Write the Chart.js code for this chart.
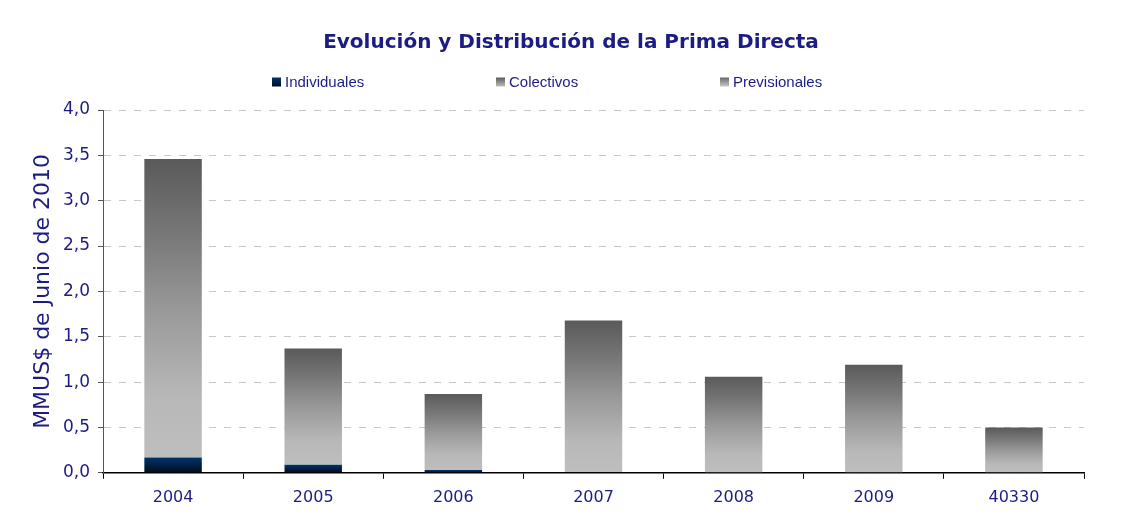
<!DOCTYPE html>
<html>
<head>
<meta charset="utf-8">
<script src="https://cdn.jsdelivr.net/npm/chart.js@4/dist/chart.umd.min.js"></script>
<style>
  html, body { margin: 0; padding: 0; background: #ffffff; }
  #wrap { width: 1122px; height: 531px; }
</style>
</head>
<body>
<div id="wrap"><canvas id="c" width="1122" height="531"></canvas></div>
<script>
const categories = ['2004', '2005', '2006', '2007', '2008', '2009', '40330'];
const individuales = [0.17, 0.09, 0.03, 0.01, 0.00, 0.00, 0.00];
const colectivos = [3.29, 1.28, 0.84, 1.67, 1.06, 1.19, 0.50];
const previsionales = [0, 0, 0, 0, 0, 0, 0];
const seriesNames = ['Individuales', 'Colectivos', 'Previsionales'];
const titleText = 'Evolución y Distribución de la Prima Directa';
const yTitleText = 'MMUS$ de Junio de 2010';

const TEXT = '#1c1c84';

function segPixels(ctx) {
  const chart = ctx.chart;
  const ys = chart.scales && chart.scales.y;
  if (!ys || ctx.dataIndex === undefined) return null;
  let base = 0;
  for (let k = 0; k < ctx.datasetIndex; k++) base += chart.data.datasets[k].data[ctx.dataIndex];
  const top = base + chart.data.datasets[ctx.datasetIndex].data[ctx.dataIndex];
  const y0 = ys.getPixelForValue(base), y1 = ys.getPixelForValue(top);
  if (!isFinite(y0) || !isFinite(y1) || Math.abs(y0 - y1) < 0.01) return null;
  return [y0, y1];
}
function grayFill(ctx) {
  const p = segPixels(ctx);
  if (!p) return '#9a9a9a';
  const g = ctx.chart.ctx.createLinearGradient(0, p[0], 0, p[1]);
  g.addColorStop(0, '#bebebe');
  g.addColorStop(0.2, '#b8b8b8');
  g.addColorStop(0.5, '#989898');
  g.addColorStop(0.75, '#777777');
  g.addColorStop(1, '#5a5a5a');
  return g;
}
function navyFill(ctx) {
  const p = segPixels(ctx);
  if (!p) return '#002a55';
  const g = ctx.chart.ctx.createLinearGradient(0, p[0], 0, p[1]);
  g.addColorStop(0, '#000c1c');
  g.addColorStop(1, '#00356a');
  return g;
}

const headerPlugin = {
  id: 'header',
  afterDraw(chart) {
    const c = chart.ctx;
    c.save();
    // title
    c.font = 'bold 20px "DejaVu Sans", Verdana, sans-serif';
    c.fillStyle = TEXT;
    c.textAlign = 'center';
    c.textBaseline = 'middle';
    c.fillText(titleText, chart.width / 2 + 10, 43);
    // legend
    const swatches = [['#00356a', '#000c1c'], ['#5a5a5a', '#bebebe'], ['#6a6a6a', '#c8c8c8']];
    const startX = chart.width / 2 - 289;
    const spacing = 224;
    const cy = 82;
    c.font = '15px "Liberation Sans", Arial, sans-serif';
    c.textAlign = 'left';
    seriesNames.forEach((name, i) => {
      const x = startX + i * spacing;
      const g = c.createLinearGradient(0, cy - 4.5, 0, cy + 4.5);
      g.addColorStop(0, swatches[i][0]);
      g.addColorStop(1, swatches[i][1]);
      c.fillStyle = g;
      c.fillRect(x, cy - 4.5, 9, 9);
      c.fillStyle = TEXT;
      c.fillText(name, x + 13, cy + 1);
    });
    c.restore();
  }
};

new Chart(document.getElementById('c'), {
  type: 'bar',
  data: {
    labels: categories,
    datasets: [
      { label: seriesNames[0], data: individuales, backgroundColor: navyFill },
      { label: seriesNames[1], data: colectivos, backgroundColor: grayFill },
      { label: seriesNames[2], data: previsionales, backgroundColor: grayFill }
    ]
  },
  options: {
    responsive: false,
    animation: false,
    devicePixelRatio: 1,
    layout: { padding: { left: 0, right: 38, top: 110, bottom: 15 } },
    datasets: { bar: { categoryPercentage: 1.0, barPercentage: 0.41, borderWidth: 0 } },
    plugins: {
      legend: { display: false },
      tooltip: { enabled: false },
      title: { display: false }
    },
    scales: {
      x: {
        stacked: true,
        border: { display: true, color: '#000000', width: 1.5 },
        grid: { offset: true, drawOnChartArea: false, drawTicks: true, tickLength: 6, color: '#000000', tickColor: '#000000' },
        ticks: { color: TEXT, padding: 9, font: { family: '"DejaVu Sans", Verdana, sans-serif', size: 16 } }
      },
      y: {
        stacked: true,
        min: 0,
        max: 4,
        afterFit(scale) { scale.width = 103; },
        border: { display: true, color: '#555555', width: 1, dash: [7, 8] },
        grid: {
          color: '#c8c8c8', tickLength: 5,
          tickColor: '#555555', tickBorderDash: [], drawTicks: true
        },
        ticks: {
          stepSize: 0.5,
          padding: 8,
          color: TEXT,
          font: { family: '"DejaVu Sans", Verdana, sans-serif', size: 17 },
          callback: (v) => v.toFixed(1).replace('.', ',')
        },
        title: {
          display: true,
          text: yTitleText,
          color: TEXT,
          padding: { top: 30, bottom: 0 },
          font: { family: '"DejaVu Sans", Verdana, sans-serif', size: 22 }
        }
      }
    }
  },
  plugins: [headerPlugin]
});
</script>
</body>
</html>
